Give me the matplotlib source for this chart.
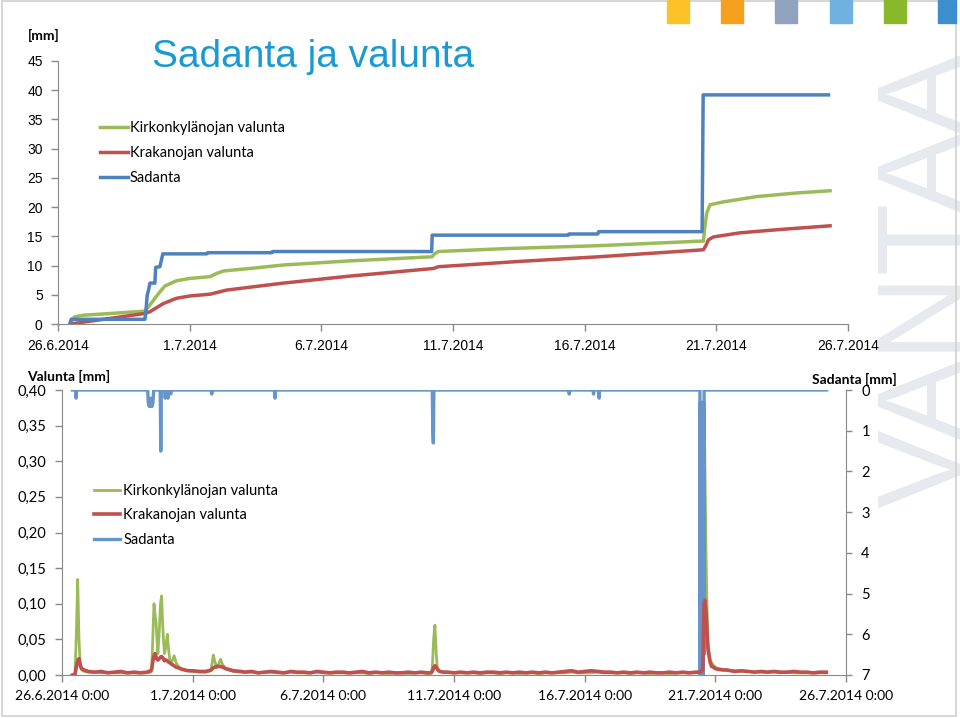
import matplotlib
matplotlib.use('Agg')
import matplotlib.pyplot as plt
from matplotlib.patches import Rectangle

# aika = vuorokautta alkaen 26.6.2014 0:00

# ylakuva: kumulatiiviset summat [mm]
sad_cum_days = [0.46, 0.50, 3.30, 3.33, 3.39, 3.43, 3.49, 3.68, 3.71, 3.87, 3.98,
                5.65, 5.68, 8.12, 8.15, 14.19, 14.21, 19.38, 19.40, 20.50, 20.53,
                24.46, 24.50, 29.26]
sad_cum = [0.0, 0.8, 0.8, 1.8, 5.0, 5.6, 7.0, 7.0, 9.7, 9.8, 12.0,
           12.0, 12.2, 12.2, 12.4, 12.4, 15.2, 15.2, 15.4, 15.4, 15.8,
           15.8, 39.2, 39.2]

kirk_cum_days = [0.46, 0.55, 0.65, 0.96, 2.0, 3.30, 3.49, 3.68, 3.87, 4.06, 4.5,
                 5.01, 5.77, 6.0, 6.28, 7.29, 8.56, 11.09, 14.20, 14.30, 14.44,
                 17.0, 20.52, 24.51, 24.56, 24.63, 24.76, 25.27, 26.53, 28.0, 29.32]
kirk_cum = [0.0, 0.9, 1.25, 1.5, 1.8, 2.2, 3.25, 4.4, 5.5, 6.5, 7.4,
            7.8, 8.1, 8.6, 9.07, 9.5, 10.1, 10.8, 11.5, 12.0, 12.4,
            12.9, 13.4, 14.2, 16.5, 18.9, 20.4, 20.9, 21.8, 22.4, 22.8]

krak_cum_days = [0.46, 3.30, 3.49, 4.0, 4.5, 5.01, 5.77, 6.4, 8.56, 11.09, 14.26,
                 14.44, 17.5, 20.52, 24.51, 24.60, 24.70, 24.89, 25.9, 27.5, 29.32]
krak_cum = [0.0, 1.8, 2.1, 3.5, 4.4, 4.8, 5.1, 5.8, 7.0, 8.2, 9.5,
            9.8, 10.7, 11.5, 12.7, 13.4, 14.4, 14.9, 15.6, 16.2, 16.8]

top_xticklabels = ['26.6.2014', '1.7.2014', '6.7.2014', '11.7.2014',
                   '16.7.2014', '21.7.2014', '26.7.2014']

# alakuva: valunta [mm] ja sadanta [mm]
flow_days = [
    0.40, 0.50, 0.55, 0.60, 0.65, 0.70, 0.75, 0.85, 1.00, 1.25,
    1.50, 1.75, 2.00, 2.25, 2.50, 2.75, 3.00, 3.25, 3.40,
    3.43, 3.48, 3.52, 3.56, 3.60, 3.64, 3.67, 3.72, 3.77, 3.81,
    3.86, 3.92, 3.98, 4.03, 4.08, 4.13, 4.20, 4.29, 4.36, 4.45,
    4.58, 4.70, 4.83,
    5.00, 5.25, 5.50, 5.70, 5.76, 5.79, 5.84, 5.92, 6.00, 6.07,
    6.15, 6.25, 6.37, 6.55, 6.85,
    7.00, 7.25, 7.50, 7.75, 8.00, 8.25, 8.50, 8.75, 9.00, 9.25,
    9.50, 9.75, 10.00, 10.25, 10.50, 10.75, 11.00, 11.25, 11.50, 11.75,
    12.00, 12.25, 12.50, 12.75, 13.00, 13.25, 13.50, 13.75, 14.00,
    14.12, 14.17, 14.22, 14.27, 14.32, 14.36, 14.45, 14.60,
    14.75, 15.00, 15.25, 15.50, 15.75, 16.00, 16.25, 16.50, 16.75, 17.00,
    17.25, 17.50, 17.75, 18.00, 18.25, 18.50, 18.75, 19.00, 19.25, 19.50,
    19.75, 20.00, 20.25, 20.50, 20.75, 21.00, 21.25, 21.50, 21.75, 22.00,
    22.25, 22.50, 22.75, 23.00, 23.25, 23.50, 23.75, 24.00, 24.25,
    24.45, 24.52, 24.55, 24.57, 24.60, 24.64, 24.67, 24.72, 24.80, 24.86,
    24.92, 25.00, 25.10, 25.30, 25.44, 25.60,
    25.75, 26.00, 26.25, 26.50, 26.75, 27.00, 27.25, 27.50, 27.75, 28.00,
    28.25, 28.50, 28.75, 29.00, 29.25,
]
kirk_flow = [
    0.000, 0.002, 0.060, 0.134, 0.050, 0.012, 0.007, 0.005, 0.004, 0.004,
    0.003, 0.004, 0.003, 0.003, 0.003, 0.003, 0.003, 0.003, 0.004,
    0.006, 0.060, 0.100, 0.085, 0.073, 0.045, 0.030, 0.060, 0.100, 0.111,
    0.065, 0.030, 0.040, 0.057, 0.035, 0.020, 0.018, 0.027, 0.018, 0.012,
    0.009, 0.007, 0.006,
    0.005, 0.004, 0.004, 0.006, 0.020, 0.028, 0.020, 0.010, 0.016, 0.022,
    0.014, 0.010, 0.007, 0.005, 0.004,
    0.004, 0.004, 0.003, 0.004, 0.004, 0.003, 0.003, 0.004, 0.003, 0.003,
    0.003, 0.004, 0.003, 0.003, 0.003, 0.003, 0.003, 0.003, 0.003, 0.002,
    0.003, 0.003, 0.002, 0.003, 0.003, 0.002, 0.003, 0.003, 0.002,
    0.003, 0.010, 0.050, 0.070, 0.030, 0.010, 0.005, 0.004,
    0.004, 0.003, 0.003, 0.003, 0.003, 0.002, 0.003, 0.003, 0.002, 0.003,
    0.003, 0.002, 0.003, 0.003, 0.002, 0.003, 0.003, 0.003, 0.003, 0.004,
    0.003, 0.003, 0.003, 0.004, 0.003, 0.003, 0.003, 0.003, 0.002, 0.003,
    0.003, 0.002, 0.003, 0.003, 0.002, 0.003, 0.003, 0.003, 0.003,
    0.004, 0.010, 0.250, 0.380, 0.300, 0.180, 0.115, 0.045, 0.022, 0.017,
    0.014, 0.011, 0.009, 0.008, 0.007, 0.006,
    0.006, 0.005, 0.005, 0.004, 0.004, 0.004, 0.004, 0.003, 0.004, 0.003,
    0.003, 0.003, 0.003, 0.003, 0.003,
]
krak_flow = [
    0.000, 0.001, 0.012, 0.020, 0.023, 0.014, 0.009, 0.007, 0.005, 0.004,
    0.005, 0.003, 0.004, 0.005, 0.003, 0.004, 0.003, 0.004, 0.006,
    0.008, 0.020, 0.027, 0.030, 0.025, 0.022, 0.021, 0.023, 0.025, 0.026,
    0.024, 0.020, 0.021, 0.020, 0.018, 0.017, 0.015, 0.013, 0.011, 0.010,
    0.008, 0.007, 0.006,
    0.006, 0.005, 0.005, 0.007, 0.009, 0.010, 0.011, 0.012, 0.012, 0.012,
    0.011, 0.009, 0.008, 0.006, 0.005,
    0.004, 0.005, 0.003, 0.004, 0.005, 0.004, 0.003, 0.005, 0.004, 0.004,
    0.003, 0.005, 0.004, 0.003, 0.004, 0.004, 0.003, 0.004, 0.005, 0.003,
    0.004, 0.003, 0.004, 0.003, 0.003, 0.004, 0.003, 0.004, 0.003,
    0.003, 0.005, 0.010, 0.013, 0.011, 0.008, 0.005, 0.004,
    0.004, 0.003, 0.004, 0.003, 0.004, 0.003, 0.004, 0.004, 0.003, 0.004,
    0.003, 0.004, 0.003, 0.004, 0.003, 0.004, 0.003, 0.004, 0.005, 0.006,
    0.004, 0.005, 0.006, 0.005, 0.004, 0.004, 0.003, 0.004, 0.003, 0.004,
    0.003, 0.004, 0.003, 0.003, 0.004, 0.003, 0.004, 0.003, 0.004,
    0.004, 0.008, 0.070, 0.100, 0.105, 0.090, 0.070, 0.035, 0.018, 0.012,
    0.011, 0.009, 0.008, 0.007, 0.007, 0.006,
    0.005, 0.006, 0.005, 0.004, 0.005, 0.004, 0.005, 0.004, 0.004, 0.005,
    0.004, 0.004, 0.003, 0.004, 0.004,
]

sad_days = [0.40, 0.52, 0.54, 0.56, 3.28, 3.30, 3.33, 3.36, 3.39, 3.42,
            3.45, 3.48, 3.51, 3.76, 3.78, 3.80, 3.93, 3.95, 3.97, 4.04,
            4.06, 4.08, 4.14, 4.16, 4.18, 5.71, 5.73, 5.75, 8.13, 8.15,
            8.17, 14.17, 14.19, 14.21, 14.23, 19.39, 19.41, 19.43, 20.32, 20.34,
            20.36, 20.53, 20.55, 20.57,
            24.41, 24.42, 24.43, 24.44, 24.45, 24.46, 24.47, 24.48, 24.49, 24.50,
            24.51, 24.52, 24.53, 24.54, 24.55, 24.56, 24.57, 29.26]
sad_mm = [0.0, 0.0, 0.2, 0.0, 0.0, 0.3, 0.4, 0.4, 0.2, 0.4,
          0.4, 0.3, 0.0, 0.0, 1.5, 0.0, 0.0, 0.2, 0.0, 0.0,
          0.2, 0.0, 0.0, 0.1, 0.0, 0.0, 0.1, 0.0, 0.0, 0.2,
          0.0, 0.0, 1.0, 1.3, 0.0, 0.0, 0.1, 0.0, 0.0, 0.1,
          0.0, 0.0, 0.2, 0.0,
          0.0, 7.5, 0.3, 8.0, 0.5, 9.0, 0.4, 8.5, 0.6, 8.0,
          0.5, 7.5, 0.4, 7.2, 0.3, 6.5, 0.0, 0.0]

bot_xticklabels = ['26.6.2014 0:00', '1.7.2014 0:00', '6.7.2014 0:00', '11.7.2014 0:00',
                   '16.7.2014 0:00', '21.7.2014 0:00', '26.7.2014 0:00']
left_ticks = [0.0, 0.05, 0.10, 0.15, 0.20, 0.25, 0.30, 0.35, 0.40]
left_ticklabels = ['0,00', '0,05', '0,10', '0,15', '0,20', '0,25', '0,30', '0,35', '0,40']
right_ticks = [0, 1, 2, 3, 4, 5, 6, 7]

labels = ['Kirkonkylänojan valunta', 'Krakanojan valunta', 'Sadanta']
square_colors = ['#fdc12a', '#f7a01d', '#8fa3bd', '#6fb2e2', '#8ab82b', '#3d8ecc']

GREEN = '#9bbb59'
RED = '#c0504d'
BLUE = '#4f81bd'
BLUE_LIGHT = '#6795c9'
AXC = '#898989'

plt.rcParams['font.family'] = ['Lato', 'DejaVu Sans']

W, H = 960, 718
fig = plt.figure(figsize=(9.6, 7.18), dpi=100)
fig.patch.set_facecolor('white')


def fx(px):
    return px / W


def fy(py):
    return 1 - py / H


# dian kehys ja varineliot
fig.patches.append(Rectangle((fx(2), fy(716)), 954 / W, 715 / H, fill=False,
                             edgecolor='#d0d0d0', lw=1.2, transform=fig.transFigure))
for i, c in enumerate(square_colors):
    x0 = 667 + i * 54.2
    w = min(22, 956 - x0)
    fig.patches.append(Rectangle((fx(x0), fy(23)), w / W, 23 / H, color=c,
                                 transform=fig.transFigure))

# vesileima (leikkautuu dian reunaan)
fig.text(fx(874), fy(508), 'VANTAA', rotation=90, ha='left', va='bottom',
         fontsize=85, color='#e6e9ee', family='Liberation Sans', zorder=-1,
         clip_on=True)

fig.text(fx(152), fy(67), 'Sadanta ja valunta', fontsize=28, color='#1b9ad2',
         family='Liberation Sans', va='baseline')

# ylakuva
ax1 = fig.add_axes([fx(58), fy(324), (848 - 58) / W, (324 - 61) / H])
ax1.set_facecolor('none')
l1, = ax1.plot(kirk_cum_days, kirk_cum, color=GREEN, lw=2.5, label=labels[0])
l2, = ax1.plot(krak_cum_days, krak_cum, color=RED, lw=2.5, label=labels[1])
l3, = ax1.plot(sad_cum_days, sad_cum, color=BLUE, lw=2.5, label=labels[2])
ax1.set_xlim(0, 30)
ax1.set_ylim(0, 45)
ax1.set_xticks(range(0, 31, 5))
ax1.set_xticklabels(top_xticklabels, family='Liberation Sans', fontsize=10)
ax1.set_yticks(range(0, 46, 5))
ax1.set_yticklabels([str(v) for v in range(0, 46, 5)], family='Liberation Sans', fontsize=10)
for s in ['top', 'right']:
    ax1.spines[s].set_visible(False)
for s in ['left', 'bottom']:
    ax1.spines[s].set_color(AXC)
ax1.tick_params(length=5, width=1, color=AXC, pad=6)
ax1.legend(handles=[l1, l2, l3], loc='upper left', bbox_to_anchor=(fx(100), fy(121)),
           bbox_transform=fig.transFigure, frameon=False, borderpad=0, borderaxespad=0,
           handlelength=1.9, handletextpad=0.15, labelspacing=0.75, fontsize=10.5)
fig.text(fx(28), fy(35), '[mm]', fontsize=10, weight='bold', va='center')

# alakuva
ax2 = fig.add_axes([fx(62), fy(675), (846 - 62) / W, (675 - 390) / H])
ax2.set_facecolor('none')
g, = ax2.plot(flow_days, kirk_flow, color=GREEN, lw=2.0)
ax2.set_xlim(0, 30)
ax2.set_ylim(0, 0.40)
ax2.set_xticks(range(0, 31, 5))
ax2.set_xticklabels(bot_xticklabels, fontsize=10)
ax2.set_yticks(left_ticks)
ax2.set_yticklabels(left_ticklabels, fontsize=10.5)
for s in ['top', 'right']:
    ax2.spines[s].set_visible(False)
for s in ['left', 'bottom']:
    ax2.spines[s].set_color(AXC)
ax2.tick_params(length=5, width=1, color=AXC, pad=6)

axr = ax2.twinx()
axr.set_facecolor('none')
b, = axr.plot(sad_days, sad_mm, color=BLUE_LIGHT, lw=2.4)
axr.set_ylim(7, 0)
axr.set_yticks(right_ticks)
axr.set_yticklabels([str(v) for v in right_ticks], fontsize=10.5)
for s in ['top', 'left', 'bottom']:
    axr.spines[s].set_visible(False)
axr.spines['right'].set_color(AXC)
axr.tick_params(length=4, width=1, color=AXC, pad=7)

axk = ax2.twinx()
axk.set_facecolor('none')
r, = axk.plot(flow_days, krak_flow, color=RED, lw=2.6)
axk.set_ylim(0, 0.40)
axk.axis('off')
axk.legend(handles=[g, r, b], labels=labels, loc='upper left',
           bbox_to_anchor=(fx(94), fy(484)), bbox_transform=fig.transFigure,
           frameon=False, borderpad=0, borderaxespad=0, handlelength=1.8,
           handletextpad=0.2, labelspacing=0.72, fontsize=10.5)

fig.text(fx(27), fy(376), 'Valunta [mm]', fontsize=10, weight='bold', va='center')
fig.text(fx(812), fy(379), 'Sadanta [mm]', fontsize=10, weight='bold', va='center')

fig.savefig('out.png', dpi=100)
